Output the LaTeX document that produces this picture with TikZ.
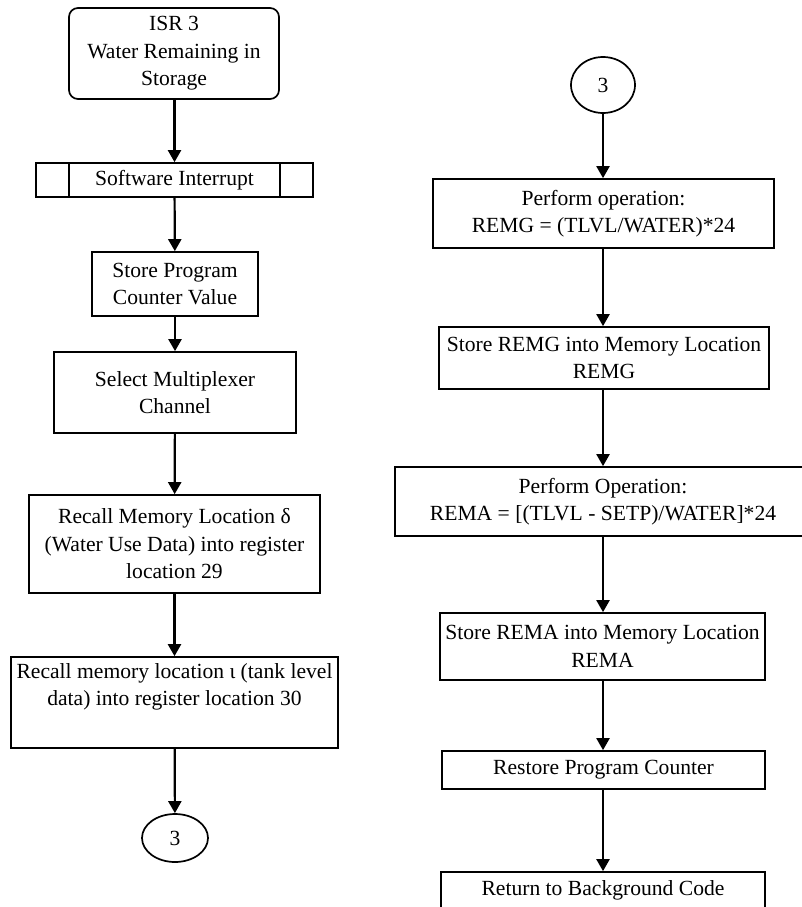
\documentclass[tikz,border=0pt]{standalone}
\usepackage{fontspec}
\setmainfont{Liberation Serif}
\usetikzlibrary{arrows.meta,shapes.geometric}
\begin{document}
\begin{tikzpicture}[x=1pt,y=-1pt,
  every node/.style={font=\fontsize{21.6}{27.5}\selectfont, align=center, inner sep=0pt},
  box/.style={draw, line width=1.7pt, rectangle},
  oval/.style={draw, line width=1.7pt, ellipse},
  arr/.style={line width=2.2pt, -{Triangle[width=13pt,length=12pt]}}]
\useasboundingbox (0,0) rectangle (802,907);
% left column
\node[box, rounded corners=9pt, minimum width=210pt, minimum height=91pt] (isr) at (174,53.5) {ISR 3\\Water Remaining in\\Storage};
\node[box, minimum width=277pt, minimum height=34pt] (swi) at (174.5,180) {Software Interrupt};
\draw[line width=1.7pt] ([xshift=34pt]swi.north west) -- ([xshift=34pt]swi.south west);
\draw[line width=1.7pt] ([xshift=-34pt]swi.north east) -- ([xshift=-34pt]swi.south east);
\node[box, minimum width=166pt, minimum height=64pt] (spc) at (175,284) {Store Program\\Counter Value};
\node[box, minimum width=242pt, minimum height=81pt] (smc) at (175,392.5) {Select Multiplexer\\Channel};
\node[box, minimum width=291pt, minimum height=98pt] (rm1) at (174.5,544) {Recall Memory Location δ\\(Water Use Data) into register\\location 29};
\node[box, minimum width=327pt, minimum height=91pt] (rm2) at (174.5,702.5) {Recall memory location ι (tank level\\data) into register location 30\\\strut};
\node[oval, minimum width=66pt, minimum height=48pt] (c1) at (175,838) {3};
% right column
\node[oval, minimum width=64pt, minimum height=56pt] (c2) at (603,85) {3};
\node[box, minimum width=341pt, minimum height=69pt] (po1) at (603.5,213.5) {Perform operation:\\REMG = (TLVL/WATER)*24};
\node[box, minimum width=330pt, minimum height=62pt] (sr1) at (604,358) {Store REMG into Memory Location\\REMG};
\node[box, minimum width=416pt, minimum height=69pt] (po2) at (603,501.5) {Perform Operation:\\REMA = [(TLVL - SETP)/WATER]*24};
\node[box, minimum width=325pt, minimum height=67pt] (sr2) at (602.5,646.5) {Store REMA into Memory Location\\REMA};
\node[box, minimum width=323pt, minimum height=38pt] (rpc) at (603.5,770) {Restore Program Counter};
\node[box, minimum width=324pt, minimum height=37pt] (ret) at (603,890.5) {Return to Background Code};
% arrows
\draw[arr] (isr.south -| swi.north) -- (swi.north);
\draw[arr] (swi) -- (spc);
\draw[arr] (spc) -- (smc);
\draw[arr] (smc) -- (rm1);
\draw[arr] (rm1) -- (rm2);
\draw[arr] (rm2) -- (c1);
\draw[arr] (c2) -- (c2 |- po1.north);
\draw[arr] (po1.south -| c2) -- (sr1.north -| c2);
\draw[arr] (sr1.south -| c2) -- (po2.north -| c2);
\draw[arr] (po2.south -| c2) -- (sr2.north -| c2);
\draw[arr] (sr2.south -| c2) -- (rpc.north -| c2);
\draw[arr] (rpc.south -| c2) -- (ret.north -| c2);
\end{tikzpicture}
\end{document}
